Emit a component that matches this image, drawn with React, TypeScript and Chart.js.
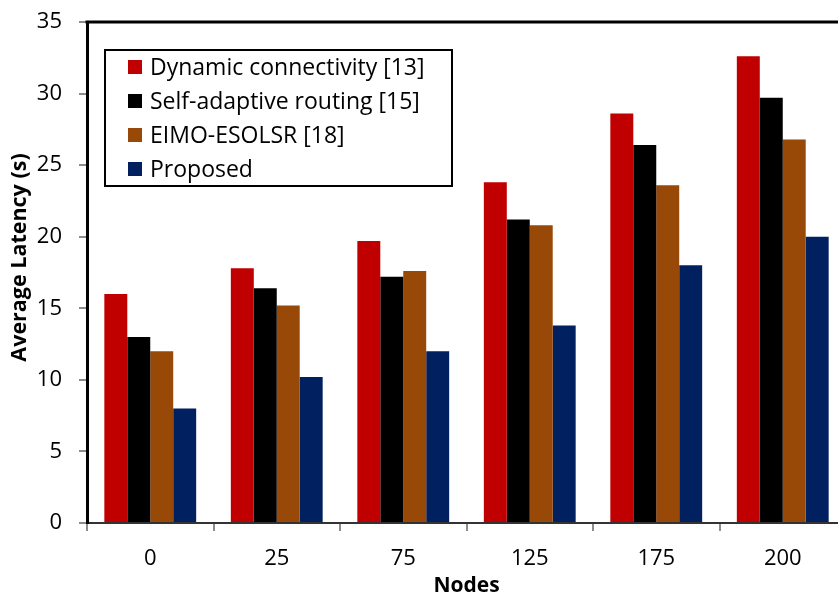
import React, { useEffect, useRef } from "react";
import { Chart, registerables } from "chart.js";

Chart.register(...registerables);

// Node counts along the x axis
const nodeCounts = ["0", "25", "75", "125", "175", "200"];

// Average latency (s) per routing scheme
const dynamicConnectivity = [16, 17.8, 19.7, 23.8, 28.6, 32.6];
const selfAdaptiveRouting = [13, 16.4, 17.2, 21.2, 26.4, 29.7];
const eimoEsolsr = [12, 15.2, 17.6, 20.8, 23.6, 26.8];
const proposed = [8, 10.2, 12, 13.8, 18, 20];

const seriesNames = [
  "Dynamic connectivity [13]",
  "Self-adaptive routing [15]",
  "EIMO-ESOLSR [18]",
  "Proposed",
];
const seriesColors = ["#C00000", "#000000", "#984807", "#002060"];

const yAxisTitle = "Average Latency (s)";
const xAxisTitle = "Nodes";

const FONT = "'Open Sans', 'Noto Sans', sans-serif";

// Boxed legend inside the plot area, the heavy top frame line and the y title
const framePlugin = {
  id: "frameAndLegend",
  afterDatasetsDraw(chart: any) {
    const { ctx, chartArea } = chart;
    ctx.save();
    // top frame
    ctx.strokeStyle = "#000";
    ctx.lineWidth = 3;
    ctx.beginPath();
    ctx.moveTo(chartArea.left - 1.5, chartArea.top);
    ctx.lineTo(chartArea.right, chartArea.top);
    ctx.stroke();

    // legend box
    const bx = chartArea.left + 18;
    const by = chartArea.top + 28;
    const bw = 347;
    const bh = 136;
    ctx.fillStyle = "#fff";
    ctx.fillRect(bx, by, bw, bh);
    ctx.strokeStyle = "#000";
    ctx.lineWidth = 2;
    ctx.strokeRect(bx, by, bw, bh);

    ctx.font = `23px ${FONT}`;
    ctx.textBaseline = "middle";
    ctx.textAlign = "left";
    chart.data.datasets.forEach((ds: any, i: number) => {
      const cy = by + 17 + i * 34;
      ctx.fillStyle = ds.backgroundColor;
      ctx.fillRect(bx + 23, cy - 7, 14, 14);
      ctx.fillStyle = "#000";
      ctx.fillText(ds.label, bx + 45, cy + 1);
    });

    // rotated y-axis title
    ctx.translate(20, (chartArea.top + chartArea.bottom) / 2 - 15);
    ctx.rotate(-Math.PI / 2);
    ctx.font = `bold 21.5px ${FONT}`;
    ctx.textAlign = "center";
    ctx.textBaseline = "middle";
    ctx.fillStyle = "#000";
    ctx.fillText(yAxisTitle, 0, 0);
    ctx.restore();
  },
};

export default function App() {
  const canvasRef = useRef<HTMLCanvasElement | null>(null);

  useEffect(() => {
    if (!canvasRef.current) return;
    const chart = new Chart(canvasRef.current, {
      type: "bar",
      data: {
        labels: nodeCounts,
        datasets: [dynamicConnectivity, selfAdaptiveRouting, eimoEsolsr, proposed].map(
          (values, i) => ({
            label: seriesNames[i],
            data: values,
            backgroundColor: seriesColors[i],
            borderWidth: 0,
            barPercentage: 1,
            categoryPercentage: 0.726,
          })
        ),
      },
      options: {
        responsive: false,
        animation: false,
        layout: { padding: { top: 22, right: 34, bottom: 0, left: 0 } },
        plugins: {
          legend: { display: false },
          tooltip: { enabled: false },
        },
        scales: {
          x: {
            afterFit: (scale: any) => {
              scale.height = 70;
            },
            grid: {
              drawOnChartArea: false,
              drawTicks: true,
              tickLength: 8,
              color: "#8c8c8c",
              lineWidth: 2,
            },
            border: { color: "#333", width: 2 },
            ticks: {
              color: "#000",
              padding: 15,
              font: { family: FONT, size: 22 },
            },
            title: {
              display: true,
              text: xAxisTitle,
              color: "#000",
              padding: { top: 0, bottom: 0 },
              font: { family: FONT, size: 21, weight: "bold", lineHeight: 0.7 },
            },
          },
          y: {
            min: 0,
            max: 35,
            afterFit: (scale: any) => {
              scale.width = 87;
              scale.paddingTop = 0;
              scale.paddingBottom = 0;
            },
            grid: {
              drawOnChartArea: false,
              drawTicks: true,
              tickLength: 8,
              color: "#8c8c8c",
              lineWidth: 2,
            },
            border: { color: "#000", width: 3 },
            ticks: {
              stepSize: 5,
              color: "#000",
              padding: 17,
              font: { family: FONT, size: 22 },
            },
          },
        },
      },
      plugins: [framePlugin],
    });
    return () => chart.destroy();
  }, []);

  return (
    <div
      style={{
        position: "fixed",
        left: 0,
        top: 0,
        width: 838,
        height: 593,
        overflow: "hidden",
        background: "#fff",
      }}
    >
      <canvas ref={canvasRef} width={880} height={593} style={{ display: "block" }} />
    </div>
  );
}
